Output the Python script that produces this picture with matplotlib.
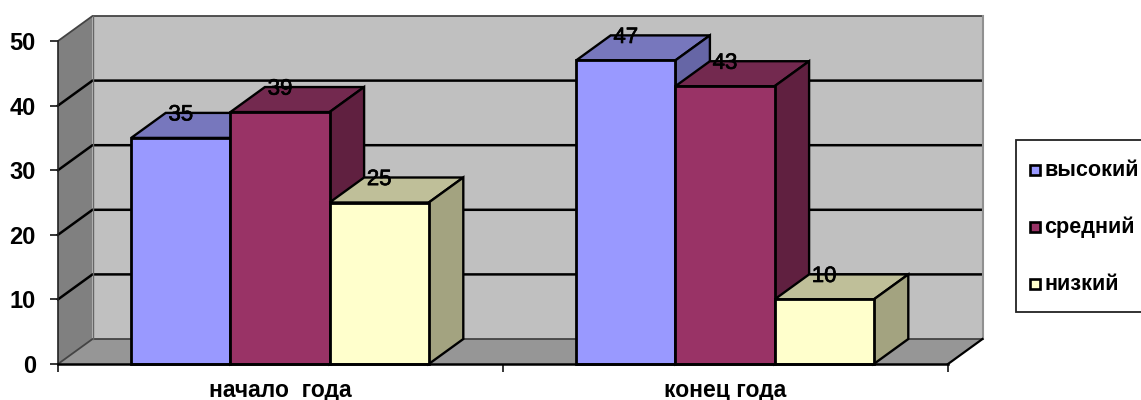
#3D column chart drawn with 2D polygons
import matplotlib
matplotlib.use('Agg')
import matplotlib.pyplot as plt
import matplotlib.patheffects as pe
from matplotlib.patches import Rectangle
from matplotlib.transforms import IdentityTransform

#data
categories = ['начало  года', 'конец года']
series_names = ['высокий', 'средний', 'низкий']
high = [35, 47]
mid = [39, 43]
low = [25, 10]
y_ticks = [0, 10, 20, 30, 40, 50]

#colours for each series: front, top, side
front_colors = ['#9999FF', '#993366', '#FFFFCC']
top_colors = ['#7777BD', '#73294F', '#BFBF99']
side_colors = ['#6666A6', '#602040', '#A3A380']

plt.rcParams['font.family'] = ['Liberation Sans', 'DejaVu Sans']

W, H = 1141, 400
fig = plt.figure(figsize=(W / 100, H / 100), dpi=100)
#front plane of the chart, in pixels: x 58-948, y 41-364 from the top
ax = fig.add_axes([58 / W, 1 - 364 / H, 890 / W, 323 / H])
ax.set_xlim(0, 2)
ax.set_ylim(0, 50)
ax.patch.set_visible(False)

#depth of the 3D box in data units
dx = 34.5 / 445
dy = 25 / 6.46
bar_w = 99.2 / 445
gap = (1 - 3 * bar_w) / 2 - 0.5 / 445

#walls
ax.fill([0, dx, dx, 0], [0, dy, 50 + dy, 50], color='#808080', lw=0, zorder=1, clip_on=False)
ax.fill([dx, 2 + dx, 2 + dx, dx], [dy, dy, 50 + dy, 50 + dy], color='#C0C0C0', lw=0, zorder=1, clip_on=False)
ax.fill([0, 2, 2 + dx, dx], [0, 0, dy, dy], color='#969696', lw=0, zorder=1, clip_on=False)

#gridlines on side and back wall
for t in y_ticks:
    col = 'black' if 0 < t < 50 else '#444444'
    ax.plot([0, dx, 2 + dx], [t, t + dy, t + dy], color=col, lw=1.8 if 0 < t < 50 else 1.3,
            zorder=2, clip_on=False, solid_joinstyle='miter')
ax.plot([dx, dx], [dy, 50 + dy], color='#666666', lw=1, zorder=2, clip_on=False)
ax.plot([2 + dx, 2 + dx], [dy, 50 + dy], color='#909090', lw=1.5, zorder=2, clip_on=False)
ax.plot([2, 2 + dx], [0, dy], color='black', lw=1.6, zorder=2, clip_on=False)

#bars
values = [high, mid, low]
z = 3
for g in range(len(categories)):
    for s in range(len(values)):
        v = values[s][g]
        x0 = g + gap + s * bar_w
        x1 = x0 + bar_w
        ec = dict(edgecolor='black', lw=1.7, joinstyle='miter', clip_on=False, zorder=z)
        ax.fill([x0, x1, x1 + dx, x0 + dx], [v, v, v + dy, v + dy], facecolor=top_colors[s], **ec)
        ax.fill([x1, x1 + dx, x1 + dx, x1], [0, dy, v + dy, v], facecolor=side_colors[s], **ec)
        ax.bar(x0, v, width=bar_w, align='edge', color=front_colors[s], edgecolor='black',
               linewidth=2, zorder=z, clip_on=False)
        z += 1

#value labels sit on the top face of the bars
for g in range(len(categories)):
    for s in range(len(values)):
        v = values[s][g]
        xc = g + gap + (s + 0.5) * bar_w
        ax.annotate(str(v), xy=(xc, v), xytext=(0, 16.5), textcoords='offset points',
                    ha='center', va='center', fontsize=16, color='black', zorder=30,
                    path_effects=[pe.withStroke(linewidth=0.5, foreground='black')])

#axes
for name in ['top', 'right']:
    ax.spines[name].set_visible(False)
ax.spines['left'].set_color('#222222')
ax.spines['left'].set_linewidth(1.2)
ax.spines['left'].set_zorder(2.5)
ax.spines['bottom'].set_color('black')
ax.spines['bottom'].set_linewidth(1.8)
ax.spines['bottom'].set_zorder(25)
ax.set_yticks(y_ticks)
ax.set_yticklabels([str(t) for t in y_ticks], fontsize=17, fontweight='bold')
ax.tick_params(axis='y', length=6, width=1.1, pad=10)
ax.set_xticks([0, 1, 2])
ax.set_xticklabels([])
ax.tick_params(axis='x', which='major', length=6, width=1.1)
ax.set_xticks([0.5, 1.5], minor=True)
ax.set_xticklabels(categories, minor=True, fontsize=16.5, fontweight='bold')
ax.tick_params(axis='x', which='minor', length=0, pad=10.5)

#legend box, runs off the right edge as in the picture
to_px = IdentityTransform()
fig.patches.append(Rectangle((1016, H - 312), 140, 172, transform=to_px, facecolor='white',
                             edgecolor='#222222', lw=1.3, clip_on=False))
legend_y = [170, 227, 284]
for name, col, ly in zip(series_names, front_colors, legend_y):
    fig.patches.append(Rectangle((1030, H - ly - 5), 10, 10, transform=to_px, facecolor=col,
                                 edgecolor='black', lw=1.9))
    fig.text(1044 / W, 1 - ly / H, name, fontsize=15.6, fontweight='bold', va='center', ha='left')

fig.savefig('out.png', dpi=100)
